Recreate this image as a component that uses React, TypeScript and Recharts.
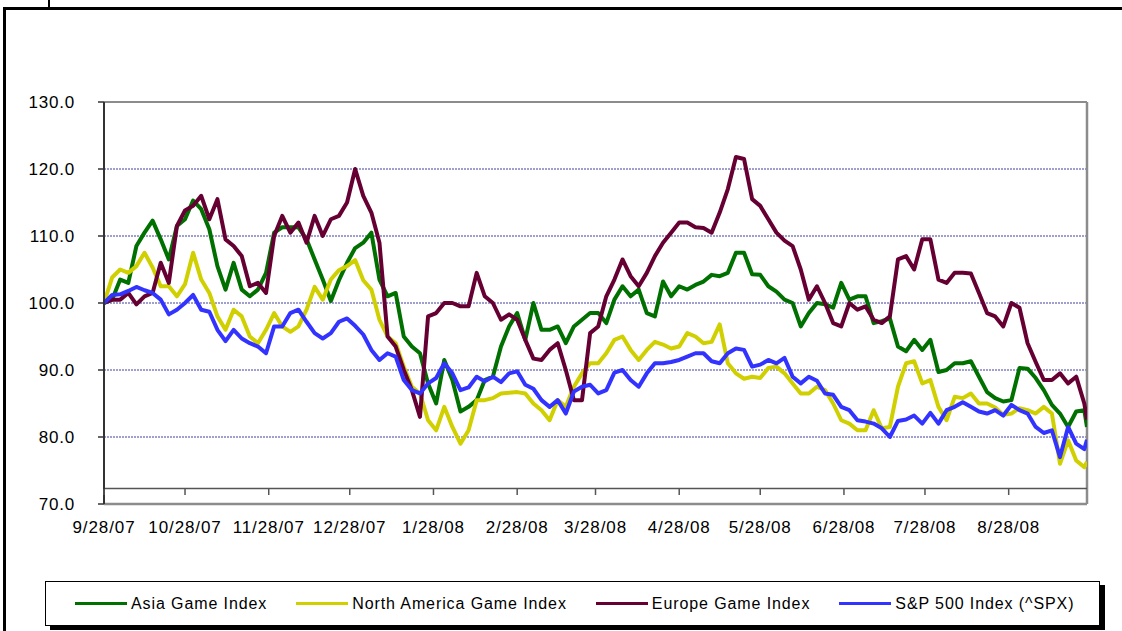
import React from "react";
import { LineChart, Line, XAxis, YAxis, ReferenceLine } from "recharts";

// days since 9/28/07, sampled every 3 days
const days = [
  0, 3, 6, 9, 12, 15, 18, 21, 24, 27, 30, 33, 36, 39, 42, 45, 48, 51, 54, 57, 60, 63, 66, 69, 72,
  75, 78, 81, 84, 87, 90, 93, 96, 99, 102, 105, 108, 111, 114, 117, 120, 123, 126, 129, 132, 135, 138, 141,
  144, 147, 150, 153, 156, 159, 162, 165, 168, 171, 174, 177, 180, 183, 186, 189, 192, 195, 198, 201, 204, 207, 210, 213,
  216, 219, 222, 225, 228, 231, 234, 237, 240, 243, 246, 249, 252, 255, 258, 261, 264, 267, 270, 273, 276, 279, 282, 285,
  288, 291, 294, 297, 300, 303, 306, 309, 312, 315, 318, 321, 324, 327, 330, 333, 336, 339, 342, 345, 348, 351, 354, 357, 360, 363, 364,
];

const asiaValues = [
  100, 100.5, 103.5, 103, 108.5, 110.5, 112.3, 109.5, 106.5, 111.5, 112.5, 115.3, 114, 111, 105.5, 102, 106, 102, 101, 102, 104.5, 110.5, 111.3, 111.3, 111.3,
  109.5, 106.5, 103.5, 100.3, 103.4, 106, 108.2, 109, 110.5, 103.5, 101, 101.5, 95, 93.5, 92.5, 88, 85, 91.5, 88.5, 83.8, 84.5, 85.5, 88.5,
  89, 93.5, 96.5, 98.5, 94.5, 100, 96, 96, 96.5, 94, 96.5, 97.5, 98.5, 98.5, 97, 100.5, 102.5, 101, 102, 98.5, 98, 103.2, 101, 102.5,
  102, 102.7, 103.2, 104.2, 104, 104.5, 107.5, 107.5, 104.3, 104.2, 102.5, 101.7, 100.5, 100, 96.5, 98.5, 100, 99.8, 99.3, 103, 100.5, 101, 101, 97,
  97.3, 97.7, 93.5, 92.8, 94.5, 93, 94.5, 89.7, 90, 91, 91, 91.3, 89, 86.7, 85.8, 85.3, 85.5, 90.3, 90.2, 88.8, 87, 84.8, 83.5, 81.5, 83.8, 84, 81.5,
];

const northAmericaValues = [
  100, 103.8, 105, 104.5, 105.5, 107.5, 105.3, 102.5, 102.5, 101, 102.8, 107.5, 103.5, 101.5, 98, 96, 99, 98, 95, 94, 96, 98.5, 96.5, 95.7, 96.5,
  99, 102.4, 100.5, 103.5, 104.9, 105.5, 106.4, 103.4, 102, 97.5, 95, 94, 90.5, 87.5, 86.5, 82.5, 81, 84.5, 81.5, 79, 81, 85.5, 85.5,
  85.8, 86.5, 86.6, 86.7, 86.5, 85, 84, 82.5, 85.5, 84.5, 87.5, 89.5, 91, 91, 92.5, 94.5, 95, 93, 91.5, 93, 94.2, 93.8, 93.2, 93.5,
  95.5, 95, 94, 94.2, 96.8, 91, 89.5, 88.7, 89, 88.8, 90.3, 90.5, 89.5, 88, 86.5, 86.5, 87.5, 87, 85, 82.5, 82, 81, 81, 84,
  81.3, 81.5, 87.5, 91, 91.3, 88, 88.5, 84.5, 82.5, 86, 85.8, 86.5, 85, 85, 84.4, 83.3, 83.5, 84.3, 84, 83.5, 84.5, 83.5, 76, 79.5, 76.5, 75.5, 76.3,
];

const europeValues = [
  100, 100.5, 100.5, 101.5, 99.8, 101, 101.5, 106, 103, 111.5, 113.8, 114.5, 116, 112.5, 115.5, 109.5, 108.5, 107, 102.5, 103, 101.5, 110, 113, 110.5, 112,
  109, 113, 110, 112.5, 113, 115, 120, 116, 113.5, 109, 95, 93.5, 90, 87, 83, 98, 98.5, 100, 100, 99.5, 99.5, 104.5, 101,
  100, 97.5, 98.3, 97.5, 94.5, 91.7, 91.5, 93, 94, 90, 85.5, 85.5, 95.5, 96.5, 101, 103.5, 106.5, 104, 102.5, 104.5, 107, 109, 110.5, 112,
  112, 111.3, 111.2, 110.5, 113.5, 117, 121.8, 121.5, 115.5, 114.5, 112.5, 110.5, 109.3, 108.5, 105, 100.5, 102.5, 100, 97, 96.5, 100, 99, 99.5, 97.5,
  97, 98, 106.5, 107, 105, 109.5, 109.5, 103.5, 103, 104.5, 104.5, 104.4, 101.5, 98.5, 98, 96.5, 100, 99.3, 94, 91.2, 88.5, 88.5, 89.5, 88, 89, 85, 82.6,
];

const spxValues = [
  100, 101.2, 101.3, 101.8, 102.4, 101.9, 101.5, 100.5, 98.3, 99, 100, 101.2, 99, 98.7, 96, 94.3, 96, 94.7, 94, 93.5, 92.5, 96.5, 96.5, 98.5, 99,
  97.2, 95.5, 94.7, 95.5, 97.2, 97.7, 96.6, 95.3, 93, 91.5, 92.5, 92, 88.5, 87, 86.5, 88, 88.8, 91, 89.5, 87, 87.4, 89, 88.3,
  89, 88.2, 89.5, 89.8, 87.8, 87.2, 85.5, 84.5, 85.5, 83.5, 86.8, 87.5, 87.8, 86.5, 87, 89.6, 90, 88.5, 87.5, 89.5, 91, 91, 91.2, 91.5,
  92, 92.5, 92.5, 91.3, 91, 92.5, 93.2, 93, 90.5, 90.8, 91.5, 91, 91.8, 89, 88, 89, 88.4, 86.5, 86.3, 84.5, 84, 82.5, 82.3, 82,
  81.3, 80, 82.4, 82.6, 83.2, 82, 83.6, 82, 84, 84.5, 85.2, 84.5, 83.8, 83.5, 84, 83.2, 84.8, 84, 83.5, 81.5, 80.6, 81, 77, 81.5, 79, 78.2, 79.6,
];

const tickDays = [0, 30, 61, 91, 122, 153, 182, 213, 243, 274, 304, 335];
const tickLabels = [
  "9/28/07", "10/28/07", "11/28/07", "12/28/07", "1/28/08", "2/28/08",
  "3/28/08", "4/28/08", "5/28/08", "6/28/08", "7/28/08", "8/28/08",
];
const yTicks = [70, 80, 90, 100, 110, 120, 130];
const gridValues = [80, 90, 100, 110, 120];
const lastDay = 364;
const axisCrossValue = 72.3;

const series = [
  { key: "asia", name: "Asia Game Index", color: "#007000", values: asiaValues },
  { key: "na", name: "North America Game Index", color: "#d0d000", values: northAmericaValues },
  { key: "europe", name: "Europe Game Index", color: "#660033", values: europeValues },
  { key: "spx", name: "S&P 500 Index (^SPX)", color: "#3333ff", values: spxValues },
];

const FONT = "'Liberation Sans', Arial, sans-serif";

const data = days.map((d, i) => {
  const row: Record<string, number> = { day: d };
  series.forEach((s) => {
    row[s.key] = s.values[i];
  });
  return row;
});

function DateTick(props: any) {
  const { x, y, payload } = props;
  const idx = tickDays.indexOf(payload.value);
  return (
    <g>
      <line x1={x} x2={x} y1={y - 15} y2={y - 9} stroke="#555" strokeWidth={1.5} />
      <text
        x={x}
        y={y + 29}
        textAnchor="middle"
        fontSize={17}
        fontFamily={FONT}
        letterSpacing={0.9}
        fill="#000"
      >
        {idx >= 0 ? tickLabels[idx] : ""}
      </text>
    </g>
  );
}

export default function App() {
  return (
    <div
      style={{
        position: "fixed",
        left: 0,
        top: 0,
        width: 1122,
        height: 631,
        background: "#fff",
        overflow: "hidden",
        fontFamily: FONT,
      }}
    >
      {/* outer frame of the slide object */}
      <div
        style={{
          position: "absolute",
          left: 3,
          top: 7,
          width: 1200,
          height: 700,
          border: "3px solid #000",
          boxSizing: "border-box",
        }}
      />
      <div style={{ position: "absolute", left: 48, top: 0, width: 2, height: 8, background: "#000" }} />

      <div style={{ position: "absolute", left: 0, top: 0 }}>
        <LineChart
          width={1122}
          height={560}
          data={data}
          margin={{ top: 102, right: 35, bottom: 0, left: 0 }}
        >
          <XAxis
            dataKey="day"
            type="number"
            domain={[0, lastDay]}
            ticks={tickDays}
            interval={0}
            allowDataOverflow
            height={56}
            tickLine={false}
            tickSize={0}
            tickMargin={0}
            axisLine={{ stroke: "#8c8c8c", strokeWidth: 2.5 }}
            tick={<DateTick />}
          />
          <YAxis
            type="number"
            domain={[70, 130]}
            ticks={yTicks}
            interval={0}
            width={104}
            tickSize={6}
            tickMargin={23}
            tickFormatter={(v: number) => v.toFixed(1)}
            axisLine={{ stroke: "#333", strokeWidth: 2 }}
            tickLine={{ stroke: "#333", strokeWidth: 1.5 }}
            tick={{ fill: "#000", fontSize: 17, fontFamily: FONT, letterSpacing: 0.8 }}
          />
          {gridValues.map((v) => (
            <ReferenceLine
              key={v}
              y={v}
              stroke="#000080"
              strokeWidth={1}
              strokeDasharray="2 1"
              strokeOpacity={0.75}
            />
          ))}
          <ReferenceLine y={130} stroke="#8c8c8c" strokeWidth={2} />
          <ReferenceLine x={lastDay} stroke="#8c8c8c" strokeWidth={2.5} />
          <ReferenceLine y={axisCrossValue} stroke="#555" strokeWidth={1.5} />
          {series.map((s) => (
            <Line
              key={s.key}
              type="linear"
              dataKey={s.key}
              name={s.name}
              stroke={s.color}
              strokeWidth={4}
              strokeLinejoin="round"
              dot={false}
              activeDot={false}
              isAnimationActive={false}
            />
          ))}
        </LineChart>
      </div>

      {/* legend box with drop shadow */}
      <div
        style={{
          position: "absolute",
          left: 45,
          top: 581,
          width: 1055,
          height: 45,
          border: "1.5px solid #000",
          boxShadow: "5px 4px 0 #000",
          background: "#fff",
          boxSizing: "border-box",
          display: "flex",
          alignItems: "center",
          paddingLeft: 29,
          gap: 29,
        }}
      >
        {series.map((s) => (
          <div key={s.key} style={{ display: "flex", alignItems: "center" }}>
            <div style={{ width: 52, height: 3, background: s.color, marginRight: 4 }} />
            <span style={{ fontSize: 16, letterSpacing: 0.9, color: "#000", whiteSpace: "nowrap" }}>
              {s.name}
            </span>
          </div>
        ))}
      </div>
    </div>
  );
}
